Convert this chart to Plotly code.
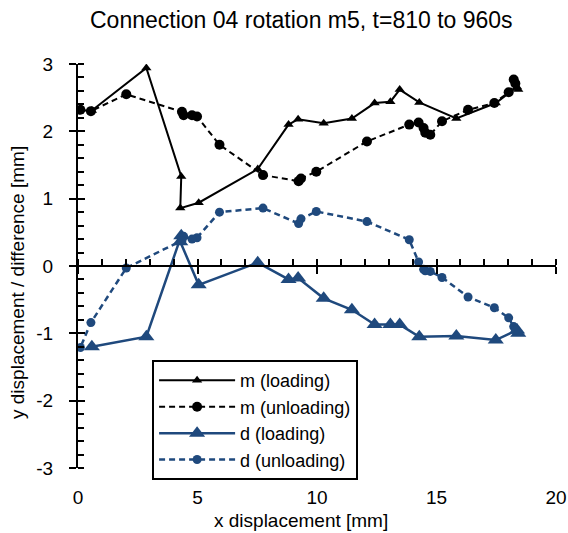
import plotly.graph_objects as go

# ---- data ----
x_loading = [0.58, 2.86, 4.32, 4.28, 5.05, 7.52, 8.81, 9.21, 10.28, 11.46, 12.41, 13.07, 13.46, 14.28, 15.83, 17.48, 18.37, 18.42]
m_loading = [2.31, 2.94, 1.33, 0.86, 0.94, 1.44, 2.10, 2.18, 2.12, 2.19, 2.42, 2.44, 2.62, 2.43, 2.19, 2.42, 2.66, 2.62]
d_loading = [-1.20, -1.05, 0.45, 0.36, -0.28, 0.05, -0.20, -0.18, -0.48, -0.65, -0.87, -0.87, -0.87, -1.05, -1.04, -1.10, -0.95, -1.00]

x_unloading = [18.23, 18.30, 18.02, 17.42, 16.32, 15.23, 14.74, 14.53, 14.46, 14.25, 13.86, 12.09, 9.97, 9.33, 9.23, 7.74, 5.92, 4.98, 4.77, 4.42, 4.35, 2.02, 0.54, 0.10]
m_unloading = [2.77, 2.71, 2.58, 2.42, 2.32, 2.15, 1.95, 1.98, 2.05, 2.13, 2.10, 1.85, 1.40, 1.30, 1.26, 1.35, 1.80, 2.22, 2.24, 2.24, 2.29, 2.55, 2.30, 2.32]
d_unloading = [-0.90, -0.95, -0.77, -0.62, -0.46, -0.17, -0.08, -0.07, -0.05, 0.06, 0.39, 0.66, 0.81, 0.70, 0.63, 0.86, 0.80, 0.42, 0.40, 0.44, 0.38, -0.03, -0.84, -1.21]

x_ticks = [0, 5, 10, 15, 20]
y_ticks = [-3, -2, -1, 0, 1, 2, 3]
y_ticktext = ["-3", "-2", "-1", "0", "1", "2", "3"]

BLACK = "#000000"
BLUE = "#1F497D"
FONT = "Liberation Sans"
FS = 19

fig = go.Figure()
fig.add_trace(go.Scatter(x=x_loading, y=m_loading, name="m (loading)", mode="lines+markers",
                         line=dict(color=BLACK, width=2),
                         marker=dict(symbol="triangle-up", size=9, color=BLACK)))
fig.add_trace(go.Scatter(x=x_unloading, y=m_unloading, name="m (unloading)", mode="lines+markers",
                         line=dict(color=BLACK, width=2, dash="6px,4px"),
                         marker=dict(symbol="circle", size=10, color=BLACK)))
fig.add_trace(go.Scatter(x=x_loading, y=d_loading, name="d (loading)", mode="lines+markers",
                         line=dict(color=BLUE, width=2.5),
                         marker=dict(symbol="triangle-up", size=14, color=BLUE)))
fig.add_trace(go.Scatter(x=x_unloading, y=d_unloading, name="d (unloading)", mode="lines+markers",
                         line=dict(color=BLUE, width=2.5, dash="6px,4px"),
                         marker=dict(symbol="circle", size=9, color=BLUE)))

common = dict(showgrid=False, zeroline=False, automargin=False)
fig.update_layout(
    width=568, height=533,
    margin=dict(l=78, r=12, t=64, b=65, autoexpand=False),
    paper_bgcolor="white", plot_bgcolor="white",
    font=dict(family=FONT, size=FS, color="black"),
    showlegend=True,
    legend=dict(x=0.155, y=0.267, xanchor="left", yanchor="top",
                bordercolor="black", borderwidth=2, bgcolor="white",
                font=dict(size=18), tracegroupgap=0, itemwidth=76),
    xaxis=dict(range=[0, 20], anchor="free", position=0.5, showline=True, linecolor="black", linewidth=2,
               ticks="outside", ticklen=7, tickwidth=2, tickcolor="black", tickmode="array", tickvals=x_ticks,
               showticklabels=False,
               minor=dict(ticks="inside", ticklen=6, tickwidth=2, tickcolor="black", dtick=1), **common),
    xaxis2=dict(range=[0, 20], overlaying="x", anchor="free", position=0.5, showline=False,
                ticks="inside", ticklen=7, tickwidth=2, tickcolor="black", tickmode="array", tickvals=x_ticks,
                showticklabels=False, **common),
    xaxis3=dict(range=[0, 20], overlaying="x", anchor="y", side="bottom", showline=False,
                ticks="", tickmode="array", tickvals=x_ticks, ticktext=[str(v) for v in x_ticks],
                ticklabelstandoff=16, tickfont=dict(size=FS), **common),
    yaxis=dict(range=[-3, 3], showline=True, linecolor="black", linewidth=2,
               ticks="outside", ticklen=7, tickwidth=2, tickcolor="black", tickmode="array", tickvals=y_ticks,
               ticktext=y_ticktext, ticklabelstandoff=12, tickfont=dict(size=FS),
               minor=dict(ticks="inside", ticklen=6, tickwidth=2, tickcolor="black", dtick=0.2), **common),
    yaxis2=dict(range=[-3, 3], overlaying="y", anchor="x", showline=False,
                ticks="inside", ticklen=7, tickwidth=2, tickcolor="black", tickmode="array", tickvals=y_ticks,
                showticklabels=False, **common),
    annotations=[
        dict(text="Connection 04 rotation m5, t=810 to 960s", xref="paper", yref="paper",
             x=0.4686, y=1.109, xanchor="center", yanchor="middle", showarrow=False, font=dict(size=23)),
        dict(text="x displacement [mm]", xref="paper", yref="paper",
             x=0.4665, y=-0.131, xanchor="center", yanchor="middle", showarrow=False, font=dict(size=FS)),
        dict(text="y displacement / difference [mm]", xref="paper", yref="paper",
             x=-0.1255, y=0.458, xanchor="center", yanchor="middle", textangle=-90, showarrow=False,
             font=dict(size=FS)),
    ],
)
# dummy traces to activate overlay axes
fig.add_trace(go.Scatter(x=[None], y=[None], xaxis="x2", yaxis="y2", showlegend=False, hoverinfo="skip"))
fig.add_trace(go.Scatter(x=[None], y=[None], xaxis="x3", yaxis="y", showlegend=False, hoverinfo="skip"))

fig.write_html("out.html")
